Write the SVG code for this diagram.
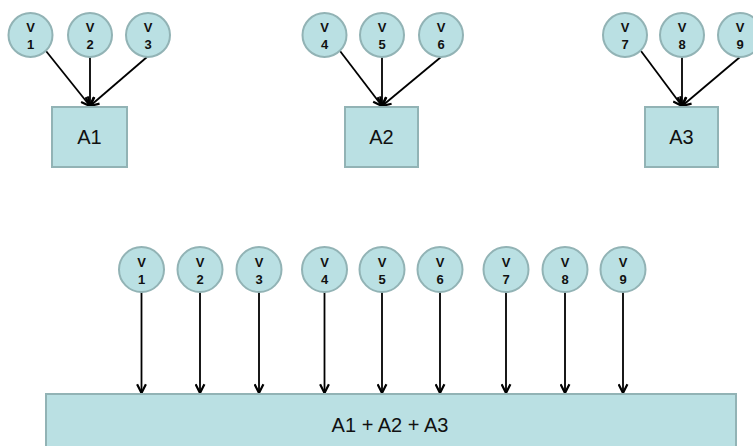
<svg xmlns="http://www.w3.org/2000/svg" width="753" height="446" viewBox="0 0 753 446">
<style>
.n{fill:#bae0e3;stroke:#92b3b5;stroke-width:2}
.v{font-family:"Liberation Sans",Arial,sans-serif;font-size:13px;font-weight:bold;fill:#111;text-anchor:middle}
.a{font-family:"Liberation Sans",Arial,sans-serif;font-size:20px;fill:#111;text-anchor:middle}
.c line{stroke:#000;stroke-width:1.8;marker-end:url(#ah)}
</style>
<defs>
<marker id="ah" viewBox="0 0 10 10" refX="9" refY="5" markerWidth="11" markerHeight="11" markerUnits="userSpaceOnUse" orient="auto">
<path d="M1,1 L9,5 L1,9" fill="none" stroke="#000" stroke-width="2"/>
</marker>
</defs>
<rect width="753" height="446" fill="#fff"/>
<g class="c" id="connectors">
<line x1="46" y1="51" x2="90" y2="106"/>
<line x1="90" y1="57" x2="90" y2="106"/>
<line x1="147" y1="57" x2="90" y2="106"/>
<line x1="340" y1="51" x2="382" y2="106"/>
<line x1="382" y1="57" x2="382" y2="106"/>
<line x1="441" y1="57" x2="382" y2="106"/>
<line x1="641" y1="51" x2="682" y2="106"/>
<line x1="682" y1="57" x2="682" y2="106"/>
<line x1="740" y1="57" x2="682" y2="106"/>
<line x1="141.5" y1="292" x2="141.5" y2="393"/>
<line x1="200" y1="292" x2="200" y2="393"/>
<line x1="259" y1="292" x2="259" y2="393"/>
<line x1="324.5" y1="292" x2="324.5" y2="393"/>
<line x1="382" y1="292" x2="382" y2="393"/>
<line x1="440" y1="292" x2="440" y2="393"/>
<line x1="506" y1="292" x2="506" y2="393"/>
<line x1="565" y1="292" x2="565" y2="393"/>
<line x1="623" y1="292" x2="623" y2="393"/>
</g>
<g id="A1"><rect class="n" x="52" y="107" width="75" height="60"/><text class="a" x="89.5" y="144">A1</text></g>
<g id="A2"><rect class="n" x="345" y="107" width="73" height="60"/><text class="a" x="381.5" y="144">A2</text></g>
<g id="A3"><rect class="n" x="645" y="107" width="73" height="60"/><text class="a" x="681.5" y="144">A3</text></g>
<g id="sum"><rect class="n" x="46" y="394" width="690" height="60"/><text class="a" x="390" y="432">A1 + A2 + A3</text></g>
<g id="t1"><circle class="n" cx="30.5" cy="35" r="22"/><text class="v" x="30.5" y="32">V</text><text class="v" x="30.5" y="49">1</text></g>
<g id="t2"><circle class="n" cx="90" cy="35" r="22"/><text class="v" x="90" y="32">V</text><text class="v" x="90" y="49">2</text></g>
<g id="t3"><circle class="n" cx="148" cy="35" r="22"/><text class="v" x="148" y="32">V</text><text class="v" x="148" y="49">3</text></g>
<g id="t4"><circle class="n" cx="324.5" cy="35" r="22"/><text class="v" x="324.5" y="32">V</text><text class="v" x="324.5" y="49">4</text></g>
<g id="t5"><circle class="n" cx="382" cy="35" r="22"/><text class="v" x="382" y="32">V</text><text class="v" x="382" y="49">5</text></g>
<g id="t6"><circle class="n" cx="441" cy="35" r="22"/><text class="v" x="441" y="32">V</text><text class="v" x="441" y="49">6</text></g>
<g id="t7"><circle class="n" cx="625" cy="35" r="22"/><text class="v" x="625" y="32">V</text><text class="v" x="625" y="49">7</text></g>
<g id="t8"><circle class="n" cx="682" cy="35" r="22"/><text class="v" x="682" y="32">V</text><text class="v" x="682" y="49">8</text></g>
<g id="t9"><circle class="n" cx="740" cy="35" r="22"/><text class="v" x="740" y="32">V</text><text class="v" x="740" y="49">9</text></g>
<g id="b1"><circle class="n" cx="141.5" cy="269.5" r="22.5"/><text class="v" x="141.5" y="266.5">V</text><text class="v" x="141.5" y="283.5">1</text></g>
<g id="b2"><circle class="n" cx="200" cy="269.5" r="22.5"/><text class="v" x="200" y="266.5">V</text><text class="v" x="200" y="283.5">2</text></g>
<g id="b3"><circle class="n" cx="259" cy="269.5" r="22.5"/><text class="v" x="259" y="266.5">V</text><text class="v" x="259" y="283.5">3</text></g>
<g id="b4"><circle class="n" cx="324.5" cy="269.5" r="22.5"/><text class="v" x="324.5" y="266.5">V</text><text class="v" x="324.5" y="283.5">4</text></g>
<g id="b5"><circle class="n" cx="382" cy="269.5" r="22.5"/><text class="v" x="382" y="266.5">V</text><text class="v" x="382" y="283.5">5</text></g>
<g id="b6"><circle class="n" cx="440" cy="269.5" r="22.5"/><text class="v" x="440" y="266.5">V</text><text class="v" x="440" y="283.5">6</text></g>
<g id="b7"><circle class="n" cx="506" cy="269.5" r="22.5"/><text class="v" x="506" y="266.5">V</text><text class="v" x="506" y="283.5">7</text></g>
<g id="b8"><circle class="n" cx="565" cy="269.5" r="22.5"/><text class="v" x="565" y="266.5">V</text><text class="v" x="565" y="283.5">8</text></g>
<g id="b9"><circle class="n" cx="623" cy="269.5" r="22.5"/><text class="v" x="623" y="266.5">V</text><text class="v" x="623" y="283.5">9</text></g>
</svg>
